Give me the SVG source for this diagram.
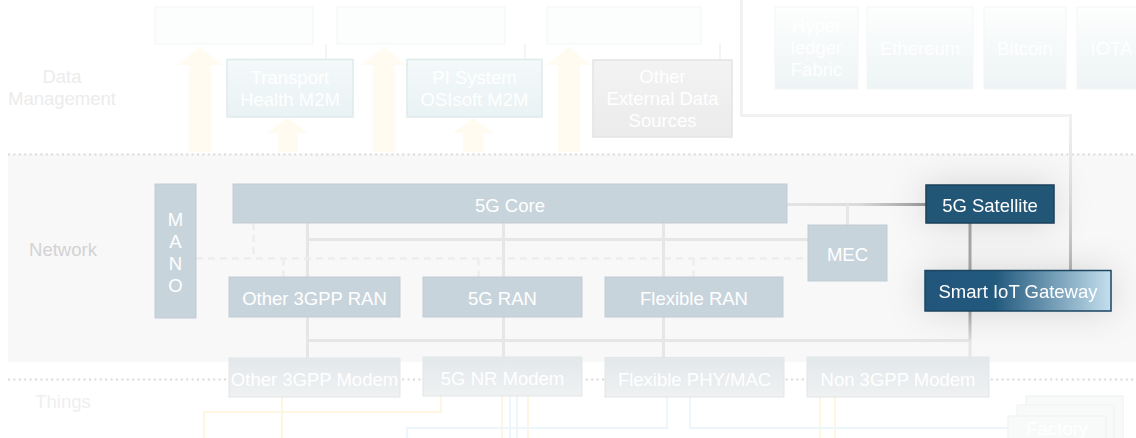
<svg xmlns="http://www.w3.org/2000/svg" width="1136" height="438" viewBox="0 0 1136 438">
  <defs>
    <style>
      text { font-family: "Liberation Sans", Arial, sans-serif; font-size: 18.5px; text-anchor: middle; }
      .lbl-dm { fill: #ececec; }
      .lbl-net { fill: #d3d3d3; }
      .lbl-th { fill: #efefef; }
      .w { fill: #ffffff; }
      .net { fill: #c8d4dc; stroke: #c0ccd4; stroke-width: 1; }
      .modem { fill: url(#modemGrad); stroke: #e2e6e8; stroke-width: 1; }
      .dm-blue { fill: url(#dmBlue); stroke: #dfeaed; stroke-width: 1.5; }
      .dm-gray { fill: url(#dmGray); stroke: #e4e4e4; stroke-width: 1.5; }
      .chain { fill: url(#chainGrad); stroke: #f3f6f6; stroke-width: 1; }
      .toprow { fill: #fcfdfd; stroke: #f3f5f5; stroke-width: 1; }
      .factory { fill: #f8fafa; stroke: #eef1f1; stroke-width: 1; }
      .dot { fill: none; stroke: #d9d9d9; stroke-width: 2; stroke-dasharray: 2 3.4; }
      .solid { fill: none; stroke: #e6e6e6; stroke-width: 3; }
      .dash { fill: none; stroke: #ededed; stroke-width: 2.5; stroke-dasharray: 7 5; }
      .faint { fill: none; stroke: #f4f4f4; stroke-width: 2; }
      .topline { fill: none; stroke: #f1f1f1; stroke-width: 3; }
      .orange { fill: none; stroke: #fef5e3; stroke-width: 2; }
      .blue { fill: none; stroke: #edf6fa; stroke-width: 2; }
      .arrow { fill: #fffbf0; }
    </style>
    <linearGradient id="gwGrad" x1="0" y1="0" x2="1" y2="0">
      <stop offset="0" stop-color="#22557a"/>
      <stop offset="0.38" stop-color="#245a7e"/>
      <stop offset="1" stop-color="#c4dfee"/>
    </linearGradient>
    <linearGradient id="modemGrad" x1="0" y1="0" x2="0" y2="1">
      <stop offset="0" stop-color="#e3e8eb"/>
      <stop offset="1" stop-color="#eff1f2"/>
    </linearGradient>
    <linearGradient id="dmBlue" x1="0" y1="0" x2="0" y2="1">
      <stop offset="0" stop-color="#f4f9fa"/>
      <stop offset="1" stop-color="#e9f2f4"/>
    </linearGradient>
    <linearGradient id="dmGray" x1="0" y1="0" x2="0" y2="1">
      <stop offset="0" stop-color="#f3f3f3"/>
      <stop offset="1" stop-color="#ebebeb"/>
    </linearGradient>
    <linearGradient id="chainGrad" x1="0" y1="0" x2="0" y2="1">
      <stop offset="0" stop-color="#fdfefe"/>
      <stop offset="1" stop-color="#eef4f5"/>
    </linearGradient>
    <linearGradient id="satLine" gradientUnits="userSpaceOnUse" x1="787" y1="0" x2="926" y2="0">
      <stop offset="0" stop-color="#e4e4e4"/>
      <stop offset="0.5" stop-color="#dcdcdc"/>
      <stop offset="1" stop-color="#9a9a9a"/>
    </linearGradient>
    <linearGradient id="gwDown" gradientUnits="userSpaceOnUse" x1="0" y1="311" x2="0" y2="345">
      <stop offset="0" stop-color="#a8a8a8"/>
      <stop offset="1" stop-color="#e6e6e6"/>
    </linearGradient>
    <linearGradient id="rightLine" gradientUnits="userSpaceOnUse" x1="0" y1="120" x2="0" y2="270">
      <stop offset="0" stop-color="#f0f0f0"/>
      <stop offset="0.5" stop-color="#dedede"/>
      <stop offset="1" stop-color="#b8b8b8"/>
    </linearGradient>
    <filter id="glow" x="-40%" y="-80%" width="180%" height="260%">
      <feDropShadow dx="0" dy="0" stdDeviation="18" flood-color="#000" flood-opacity="0.14"/>
    </filter>
  </defs>

  <rect width="1136" height="438" fill="#ffffff"/>

  <!-- layer bands -->
  <g id="bands">
    <rect x="8" y="154" width="1128" height="208" fill="#f8f8f8"/>
    <path class="dot" d="M8,154.5 H1136"/>
    <path class="dot" d="M8,379.5 H1136"/>
    <text class="lbl-dm" x="62" y="83">Data</text>
    <text class="lbl-dm" x="62" y="105">Management</text>
    <text class="lbl-net" x="63" y="256">Network</text>
    <text class="lbl-th" x="63" y="408">Things</text>
  </g>

  <!-- connectors -->
  <g id="connectors">
    <!-- data management flows -->
    <path class="arrow" d="M200,47 L222,65 L211,65 L211,152 L189,152 L189,65 L178,65 Z"/>
    <path class="arrow" d="M384,47 L406,65 L395,65 L395,152 L373,152 L373,65 L362,65 Z"/>
    <path class="arrow" d="M569,47 L591,65 L580,65 L580,152 L558,152 L558,65 L547,65 Z"/>
    <path class="arrow" d="M287.5,118 L308,133 L297.5,133 L297.5,152 L277.5,152 L277.5,133 L267,133 Z"/>
    <path class="arrow" d="M473,118 L493,133 L483,133 L483,152 L463,152 L463,133 L453,133 Z"/>
    <path class="faint" d="M326,44 V59 M525,44 V59 M720,44 V60"/>
    <path class="topline" d="M741.5,0 V115.5 H1070.5"/>
    <path fill="none" stroke="url(#rightLine)" stroke-width="3" d="M1070.5,114 V271"/>

    <!-- network links -->
    <path fill="none" stroke="url(#satLine)" stroke-width="3" d="M787,204.5 H926"/>
    <path class="solid" d="M847.5,204.5 V225"/>
    <path class="solid" d="M307.5,223 V358 M503.5,223 V357 M663.5,223 V357"/>
    <path class="solid" d="M307.5,239.5 H808"/>
    <path class="solid" d="M306,340.5 H970"/>
    <path fill="none" stroke="#a9a9a9" stroke-width="3" d="M970,223 V271"/>
    <path fill="none" stroke="url(#gwDown)" stroke-width="3" d="M970,311 V341"/>
    <path class="solid" d="M970,340 V357"/>
    <path class="dash" d="M196,258.5 H808 M253.5,223 V258.5 M283.5,258.5 V277 M478.5,258.5 V277 M693.5,258.5 V277"/>

    <!-- device links -->
    <path class="orange" d="M282,397 V438 M441,396 V412 H204 V438 M502,396 V438 M528,396 V438 M820,397 V438 M835,397 V438"/>
    <path class="blue" d="M510,396 V438 M517,396 V438 M667,397 V428 H407 V438 M690,397 V428 H1008"/>
  </g>

  <!-- data management nodes -->
  <g id="dm-row-1"><rect class="toprow" x="155" y="7" width="158" height="37"/></g>
  <g id="dm-row-2"><rect class="toprow" x="337" y="7" width="168" height="37"/></g>
  <g id="dm-row-3"><rect class="toprow" x="547" y="7" width="154" height="37"/></g>

  <g id="transport-health">
    <rect class="dm-blue" x="227" y="59.5" width="126" height="57.5"/>
    <text class="w" x="290" y="84">Transport</text>
    <text class="w" x="290" y="106">Health M2M</text>
  </g>
  <g id="pi-system">
    <rect class="dm-blue" x="407" y="59.5" width="135" height="57.5"/>
    <text class="w" x="474.5" y="84">PI System</text>
    <text class="w" x="474.5" y="106">OSIsoft M2M</text>
  </g>
  <g id="external-data">
    <rect class="dm-gray" x="593" y="60" width="139" height="77"/>
    <text class="w" x="662.5" y="83">Other</text>
    <text class="w" x="662.5" y="105">External Data</text>
    <text class="w" x="662.5" y="127">Sources</text>
  </g>

  <g id="hyperledger">
    <rect class="chain" x="775" y="7" width="83" height="82"/>
    <text class="w" x="816.5" y="32">Hyper</text>
    <text class="w" x="816.5" y="54">ledger</text>
    <text class="w" x="816.5" y="76">Fabric</text>
  </g>
  <g id="ethereum">
    <rect class="chain" x="867" y="7" width="106" height="82"/>
    <text class="w" x="920" y="55">Ethereum</text>
  </g>
  <g id="bitcoin">
    <rect class="chain" x="984" y="7" width="82" height="82"/>
    <text class="w" x="1025" y="55">Bitcoin</text>
  </g>
  <g id="iota">
    <rect class="chain" x="1077" y="7" width="70" height="82"/>
    <text class="w" x="1111.5" y="55">IOTA</text>
  </g>

  <!-- network nodes -->
  <g id="mano">
    <rect class="net" x="155" y="184" width="41" height="134"/>
    <text class="w" x="175.5" y="226">M</text>
    <text class="w" x="175.5" y="248">A</text>
    <text class="w" x="175.5" y="270">N</text>
    <text class="w" x="175.5" y="292">O</text>
  </g>
  <g id="core-5g">
    <rect class="net" x="233" y="184" width="554" height="39"/>
    <text class="w" x="510" y="212">5G Core</text>
  </g>
  <g id="mec">
    <rect class="net" x="808" y="225" width="79" height="56"/>
    <text class="w" x="847.5" y="261">MEC</text>
  </g>
  <g id="satellite-5g" filter="url(#glow)">
    <rect x="926" y="185" width="128" height="38" fill="#235677" stroke="#183f5a" stroke-width="1.5"/>
    <text class="w" x="990" y="212">5G Satellite</text>
  </g>
  <g id="iot-gateway" filter="url(#glow)">
    <rect x="925" y="270.5" width="186" height="40.5" fill="url(#gwGrad)" stroke="#1b4562" stroke-width="1.5"/>
    <text class="w" x="1018" y="298">Smart IoT Gateway</text>
  </g>
  <g id="ran-other">
    <rect class="net" x="229" y="277" width="171" height="40"/>
    <text class="w" x="314.5" y="305">Other 3GPP RAN</text>
  </g>
  <g id="ran-5g">
    <rect class="net" x="423" y="277" width="159" height="40"/>
    <text class="w" x="502.5" y="305">5G RAN</text>
  </g>
  <g id="ran-flexible">
    <rect class="net" x="605" y="277" width="178" height="40"/>
    <text class="w" x="694" y="305">Flexible RAN</text>
  </g>

  <!-- device-side nodes -->
  <g id="modem-other">
    <rect class="modem" x="229" y="358" width="171" height="39"/>
    <text class="w" x="314.5" y="386">Other 3GPP Modem</text>
  </g>
  <g id="modem-nr">
    <rect class="modem" x="423" y="357" width="159" height="39"/>
    <text class="w" x="502.5" y="385">5G NR Modem</text>
  </g>
  <g id="modem-flexible">
    <rect class="modem" x="605" y="357.5" width="179" height="39.5"/>
    <text class="w" x="694.5" y="386">Flexible PHY/MAC</text>
  </g>
  <g id="modem-non3gpp">
    <rect class="modem" x="807" y="357" width="182" height="40"/>
    <text class="w" x="898" y="386">Non 3GPP Modem</text>
  </g>

  <g id="factory">
    <rect class="factory" x="1026" y="396" width="97" height="50"/>
    <rect class="factory" x="1017" y="405" width="97" height="40"/>
    <rect class="factory" x="1008" y="416" width="98" height="30"/>
    <text class="w" x="1057" y="435">Factory</text>
  </g>
</svg>
